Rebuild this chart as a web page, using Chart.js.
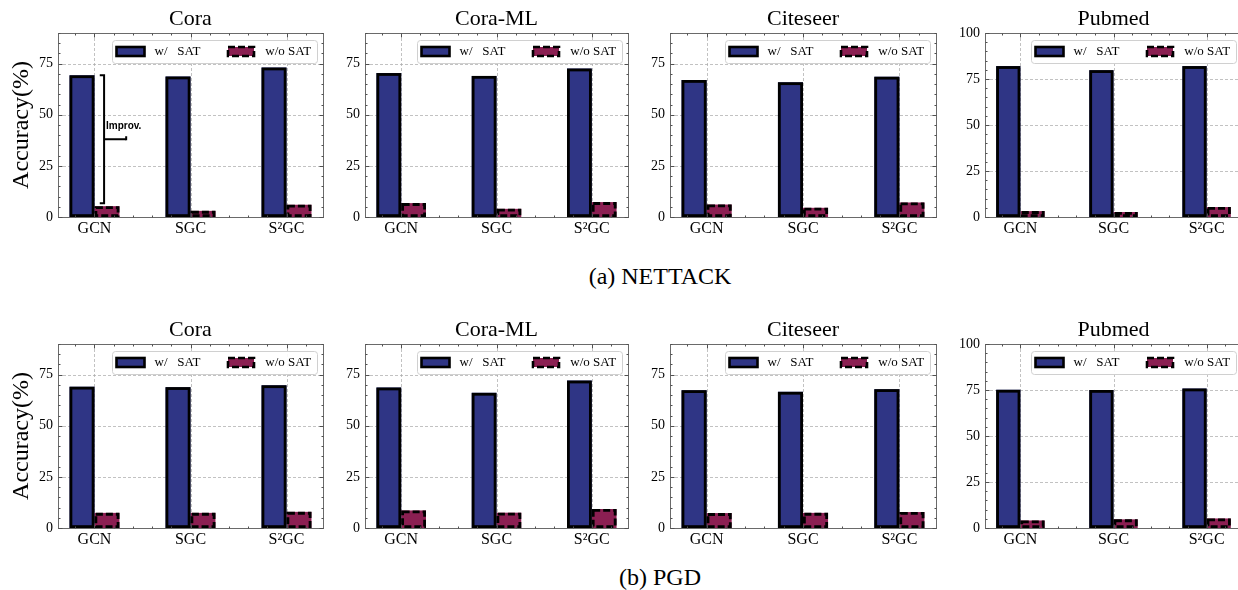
<!DOCTYPE html>
<html><head><meta charset="utf-8">
<script src="https://cdn.jsdelivr.net/npm/chart.js@4.4.0/dist/chart.umd.min.js"></script>
<style>
html,body{margin:0;padding:0;background:#fff;width:1238px;height:590px;overflow:hidden;position:relative;}
canvas{position:absolute;}
.cap{position:absolute;left:410px;width:500px;text-align:center;font-family:'Liberation Serif','Times New Roman',serif;font-size:24px;line-height:24px;color:#000;}
</style></head><body>
<div class="cap" style="top:264px">(a) NETTACK</div>
<div class="cap" style="top:565px">(b) PGD</div>
<script>
// ---------------- data ----------------
const categories = ['GCN', 'SGC', 'S²GC'];
const datasetNames = ['Cora', 'Cora-ML', 'Citeseer', 'Pubmed'];
const seriesLabels = ['w/   SAT', 'w/o SAT'];
const yTicksDefault = [0, 25, 50, 75];
const yTicksPubmed = [0, 25, 50, 75, 100];
const yMaxByDataset = [90, 90, 90, 100];

const nettackCoraWith = [69.3, 68.7, 73.1];
const nettackCoraWithout = [5.3, 3.0, 6.0];
const nettackCoraMLWith = [70.4, 69.0, 72.6];
const nettackCoraMLWithout = [6.8, 4.0, 7.3];
const nettackCiteseerWith = [67.0, 65.9, 68.6];
const nettackCiteseerWithout = [6.1, 4.5, 7.1];
const nettackPubmedWith = [82.0, 79.8, 82.0];
const nettackPubmedWithout = [3.2, 2.7, 5.4];

const pgdCoraWith = [69.1, 68.9, 69.8];
const pgdCoraWithout = [7.4, 7.4, 7.9];
const pgdCoraMLWith = [68.7, 66.1, 72.1];
const pgdCoraMLWithout = [8.6, 7.5, 9.3];
const pgdCiteseerWith = [67.4, 66.6, 67.9];
const pgdCiteseerWithout = [7.3, 7.4, 7.8];
const pgdPubmedWith = [75.1, 75.0, 75.8];
const pgdPubmedWithout = [4.1, 4.7, 5.2];

// ---------------- layout / style ----------------
const BLUE = '#2F3585';
const RED = '#8B1F52';
const SERIF = "'Liberation Serif','Times New Roman',Times,serif";
Chart.defaults.font.family = SERIF;
Chart.defaults.color = '#000';

const plotLefts = [58, 365, 670, 985];
const plotWidths = [265, 263, 266, 257];
const plotTops = [33, 344];
const PLOT_H = 184, TITLE_H = 33, XAXIS_H = 30, RIGHT_PAD = 8;

const panels = [
  [0, 0, nettackCoraWith, nettackCoraWithout, true],
  [0, 1, nettackCoraMLWith, nettackCoraMLWithout, false],
  [0, 2, nettackCiteseerWith, nettackCiteseerWithout, false],
  [0, 3, nettackPubmedWith, nettackPubmedWithout, false],
  [1, 0, pgdCoraWith, pgdCoraWithout, false],
  [1, 1, pgdCoraMLWith, pgdCoraMLWithout, false],
  [1, 2, pgdCiteseerWith, pgdCiteseerWithout, false],
  [1, 3, pgdPubmedWith, pgdPubmedWithout, false]
];

function seg(ctx, x1, y1, x2, y2) { ctx.beginPath(); ctx.moveTo(x1, y1); ctx.lineTo(x2, y2); ctx.stroke(); }

const sciPlugin = {
  id: 'sciframe',
  beforeDatasetsDraw(chart) {
    const {ctx, chartArea: a, scales: {x, y}} = chart;
    ctx.save();
    ctx.strokeStyle = '#a8a8a8'; ctx.lineWidth = 0.7; ctx.setLineDash([3, 2]);
    x.ticks.forEach(t => { const p = Math.round(x.getPixelForValue(t.value)) + 0.5; seg(ctx, p, a.top, p, a.bottom); });
    y.ticks.forEach(t => { if (t.value === 0) return; const p = Math.round(y.getPixelForValue(t.value)) + 0.5; seg(ctx, a.left, p, a.right, p); });
    ctx.restore();
  },
  afterDatasetsDraw(chart, args, opts) {
    const {ctx, chartArea: a, scales: {x, y}} = chart;
    ctx.save();
    // bar outlines: solid for series 1, dashed for series 2
    ctx.strokeStyle = '#000'; ctx.lineWidth = 2.8; ctx.lineCap = 'butt';
    [0, 1].forEach(di => {
      ctx.setLineDash(di === 0 ? [] : [7, 3]);
      chart.getDatasetMeta(di).data.forEach(el => {
        const l = el.x - el.width / 2, w = el.width, t = el.y, b = el.base;
        ctx.strokeRect(l + 1.4, t + 1.4, w - 2.8, b - t - 2.8);
      });
    });
    ctx.setLineDash([]);
    const meta = chart.getDatasetMeta(1);
    // improvement bracket
    if (opts.improv) {
      const b0 = chart.getDatasetMeta(0).data[0], r0 = meta.data[0];
      const xv = x.getPixelForValue(0.1), xl = x.getPixelForValue(0.055), xr = x.getPixelForValue(0.33);
      const yt = b0.y, yb = r0.y - 3, ym = (yt + yb) / 2;
      ctx.strokeStyle = '#000'; ctx.lineWidth = 2;
      ctx.beginPath(); ctx.moveTo(xl, yt); ctx.lineTo(xv, yt); ctx.lineTo(xv, yb); ctx.lineTo(xl, yb); ctx.stroke();
      seg(ctx, xv, ym, xr, ym);
      seg(ctx, xr, ym + 1, xr, ym - 3);
      ctx.fillStyle = '#000'; ctx.font = "bold 10px 'Liberation Sans',Arial,sans-serif";
      ctx.textAlign = 'left'; ctx.textBaseline = 'middle';
      ctx.fillText('Improv.', x.getPixelForValue(0.12), ym - 13);
    }
    // frame
    ctx.strokeStyle = '#6a6a6a'; ctx.lineWidth = 1;
    ctx.strokeRect(Math.round(a.left) + 0.5, Math.round(a.top) + 0.5, Math.round(a.right - a.left), Math.round(a.bottom - a.top));
    // ticks (inward, all sides)
    ctx.strokeStyle = '#505050';
    const L = Math.round(a.left) + 0.5, R = Math.round(a.right) + 0.5, T = Math.round(a.top) + 0.5, B = Math.round(a.bottom) + 0.5;
    for (let k = Math.ceil(x.min * 5); k <= Math.floor(x.max * 5); k++) {
      const len = (k % 5 === 0) ? 4 : 2;
      const p = Math.round(x.getPixelForValue(k / 5)) + 0.5;
      seg(ctx, p, B, p, B - len); seg(ctx, p, T, p, T + len);
    }
    for (let v = 0; v <= y.max; v += 5) {
      const len = (v % 25 === 0) ? 4 : 2;
      const p = Math.round(y.getPixelForValue(v)) + 0.5;
      seg(ctx, L, p, L + len, p); seg(ctx, R, p, R - len, p);
    }
    // legend
    const ds = chart.data.datasets;
    const w = 205, h = 23, bx = a.right - 6 - w, by = a.top + 7, cy = by + h / 2;
    ctx.fillStyle = 'rgba(255,255,255,0.92)'; ctx.strokeStyle = '#d0d0d0'; ctx.lineWidth = 1;
    ctx.beginPath(); ctx.roundRect(bx + 0.5, by + 0.5, w, h, 3); ctx.fill(); ctx.stroke();
    ctx.fillStyle = ds[0].backgroundColor; ctx.fillRect(bx + 4.5, cy - 4.5, 28, 9);
    ctx.strokeStyle = '#000'; ctx.lineWidth = 2.6; ctx.strokeRect(bx + 4.5, cy - 4.5, 28, 9);
    ctx.fillStyle = ds[1].backgroundColor; ctx.fillRect(bx + 116, cy - 4.5, 26, 9);
    ctx.setLineDash([7, 3]); ctx.strokeRect(bx + 116, cy - 4.5, 26, 9); ctx.setLineDash([]);
    ctx.fillStyle = '#000'; ctx.font = "13px " + SERIF; ctx.textAlign = 'left'; ctx.textBaseline = 'middle';
    ctx.fillText(ds[0].label, bx + 42.6, cy + 0.5);
    ctx.fillText(ds[1].label, bx + 153.3, cy + 0.5);
    ctx.restore();
  }
};

panels.forEach(([row, col, withArr, withoutArr, improv]) => {
  const W = col === 0 ? 58 : 40;
  const cv = document.createElement('canvas');
  cv.width = W + plotWidths[col] + RIGHT_PAD;
  cv.height = TITLE_H + PLOT_H + XAXIS_H;
  cv.style.left = (plotLefts[col] - W) + 'px';
  cv.style.top = (plotTops[row] - TITLE_H) + 'px';
  cv.style.width = cv.width + 'px'; cv.style.height = cv.height + 'px';
  document.body.appendChild(cv);
  const yt = col === 3 ? yTicksPubmed : yTicksDefault;
  new Chart(cv, {
    type: 'bar',
    data: {
      datasets: [
        {label: seriesLabels[0], data: withArr.map((v, i) => ({x: i, y: v})), backgroundColor: BLUE,
         borderWidth: 0, categoryPercentage: 0.52, barPercentage: 1},
        {label: seriesLabels[1], data: withoutArr.map((v, i) => ({x: i, y: v})), backgroundColor: RED,
         borderWidth: 0, categoryPercentage: 0.52, barPercentage: 1}
      ]
    },
    options: {
      responsive: false, animation: false, devicePixelRatio: 1,
      layout: {padding: {left: 0, right: RIGHT_PAD, top: 0, bottom: 0}},
      events: [],
      plugins: {
        legend: {display: false}, tooltip: {enabled: false},
        title: {display: true, text: datasetNames[col], fullSize: false, color: '#000',
                font: {size: 22, weight: 'normal', family: SERIF}, padding: {top: 6, bottom: 0.6}},
        sciframe: {improv: improv}
      },
      scales: {
        x: {
          type: 'linear', min: -0.38, max: 2.38, offset: false,
          grid: {display: false, drawTicks: false}, border: {display: false},
          afterBuildTicks: s => { s.ticks = categories.map((c, i) => ({value: i})); },
          ticks: {callback: v => categories[v], font: {size: 16}, color: '#000', padding: 2, maxRotation: 0, autoSkip: false},
          afterFit: s => { s.height = XAXIS_H; }
        },
        y: {
          type: 'linear', min: 0, max: yMaxByDataset[col],
          grid: {display: false, drawTicks: false}, border: {display: false},
          afterBuildTicks: s => { s.ticks = yt.map(v => ({value: v})); },
          ticks: {font: {size: 14}, color: '#000', padding: 5, callback: v => String(v)},
          title: col === 0 ? {display: true, text: 'Accuracy(%)', color: '#000', font: {size: 24}, padding: {top: 7, bottom: 0}} : {display: false},
          afterFit: s => { s.width = W; }
        }
      }
    },
    plugins: [sciPlugin]
  });
});
</script>
</body></html>
